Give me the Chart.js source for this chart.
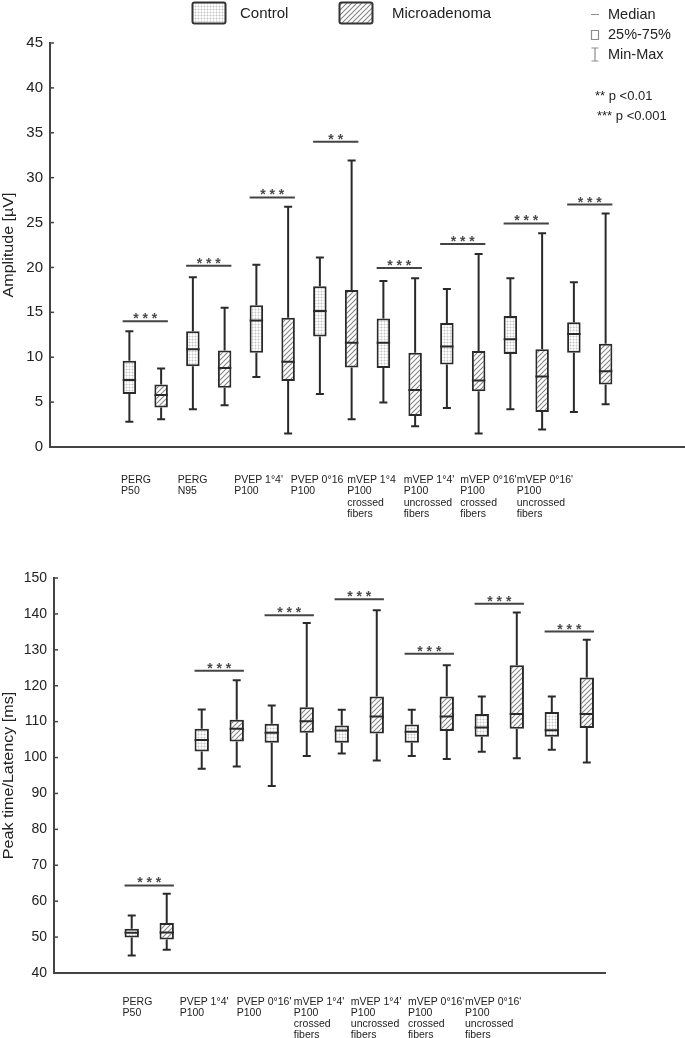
<!DOCTYPE html>
<html>
<head>
<meta charset="utf-8">
<script src="https://cdn.jsdelivr.net/npm/chart.js@4.4.1/dist/chart.umd.min.js"></script>
<style>
  body { margin: 0; background: #fff; }
  #wrap { position: relative; width: 685px; height: 1038px; }
  canvas { position: absolute; left: 0; }
  #amp { top: 0; }
  #lat { top: 530px; }
</style>
</head>
<body>
<div id="wrap">
  <canvas id="amp" width="685" height="530"></canvas>
  <canvas id="lat" width="685" height="508"></canvas>
</div>
<script>
// amplitude panel (uV)
const ampLabels = [
  ["PERG", "P50"], ["PERG", "N95"], ["PVEP 1°4'", "P100"], ["PVEP 0°16", "P100"],
  ["mVEP 1°4", "P100", "crossed", "fibers"], ["mVEP 1°4'", "P100", "uncrossed", "fibers"],
  ["mVEP 0°16'", "P100", "crossed", "fibers"], ["mVEP 0°16'", "P100", "uncrossed", "fibers"]
];
const ampCtrlMin = [2.8, 4.2, 7.8, 5.9, 4.95, 4.35, 4.2, 3.9];
const ampCtrlQ1  = [5.9, 9.0, 10.5, 12.3, 8.8, 9.2, 10.35, 10.5];
const ampCtrlMed = [7.45, 10.9, 14.1, 15.15, 11.6, 11.2, 12.0, 12.6];
const ampCtrlQ3  = [9.6, 12.9, 15.8, 17.9, 14.3, 13.8, 14.6, 13.9];
const ampCtrlMax = [12.9, 18.9, 20.3, 21.1, 18.5, 17.6, 18.8, 18.35];
const ampMicMin = [3.1, 4.65, 1.5, 3.1, 2.3, 1.5, 1.95, 4.75];
const ampMicQ1  = [4.4, 6.6, 7.35, 8.85, 3.45, 6.2, 3.9, 6.95];
const ampMicMed = [5.8, 8.8, 9.5, 11.6, 6.35, 7.4, 7.85, 8.45];
const ampMicQ3  = [6.95, 10.75, 14.4, 17.5, 10.5, 10.7, 10.9, 11.5];
const ampMicMax = [8.75, 15.5, 26.75, 31.9, 18.8, 21.5, 23.8, 26.0];
const ampSigAt = [14.0, 20.2, 27.8, 34.0, 19.95, 22.6, 24.9, 27.0];
const ampStars = ["***", "***", "***", "**", "***", "***", "***", "***"];

// latency panel (ms)
const latLabels = [
  ["PERG", "P50"], ["PVEP 1°4'", "P100"], ["PVEP 0°16'", "P100"],
  ["mVEP 1°4'", "P100", "crossed", "fibers"], ["mVEP 1°4'", "P100", "uncrossed", "fibers"],
  ["mVEP 0°16'", "P100", "crossed", "fibers"], ["mVEP 0°16'", "P100", "uncrossed", "fibers"]
];
const latCtrlMin = [44.9, 96.9, 92.1, 101.1, 100.4, 101.6, 102.2];
const latCtrlQ1  = [49.9, 101.7, 104.1, 104.1, 104.1, 105.8, 105.8];
const latCtrlMed = [51.2, 104.9, 106.9, 107.5, 107.2, 108.4, 107.6];
const latCtrlQ3  = [52.3, 108.0, 109.4, 108.9, 109.2, 112.1, 112.7];
const latCtrlMax = [56.0, 113.4, 114.5, 113.3, 113.3, 117.0, 117.0];
const latMicMin = [46.5, 97.5, 100.4, 99.2, 99.6, 99.8, 98.6];
const latMicQ1  = [49.3, 104.5, 106.9, 106.7, 107.4, 108.0, 108.2];
const latMicMed = [51.3, 108.0, 110.1, 111.4, 111.4, 112.1, 112.1];
const latMicQ3  = [53.9, 110.5, 114.0, 117.0, 117.0, 125.7, 122.3];
const latMicMax = [62.1, 121.5, 137.5, 141.0, 125.7, 140.4, 132.8];
const latSigAt = [64.4, 124.2, 139.6, 144.1, 128.9, 142.8, 135.1];
const latStars = ["***", "***", "***", "***", "***", "***", "***"];

const FONT = "'Liberation Sans', Arial, sans-serif";
Chart.defaults.font.family = FONT;
Chart.defaults.color = "#222";

function dotPattern() {
  const c = document.createElement("canvas");
  c.width = 3; c.height = 3;
  const g = c.getContext("2d");
  g.fillStyle = "#fff"; g.fillRect(0, 0, 3, 3);
  g.fillStyle = "#e6e6e6"; g.fillRect(0, 0, 3, 1); g.fillRect(0, 0, 1, 3);
  g.fillStyle = "#c4c4c4"; g.fillRect(0, 0, 1, 1);
  return g.createPattern(c, "repeat");
}

function hatchPattern() {
  const c = document.createElement("canvas");
  c.width = 5; c.height = 5;
  const g = c.getContext("2d");
  g.fillStyle = "#fff"; g.fillRect(0, 0, 5, 5);
  g.strokeStyle = "#858585"; g.lineWidth = 1.1;
  g.beginPath();
  g.moveTo(-1, 6); g.lineTo(6, -1);
  g.moveTo(-1, 1); g.lineTo(1, -1);
  g.moveTo(4, 6); g.lineTo(6, 4);
  g.stroke();
  return g.createPattern(c, "repeat");
}

const dots = dotPattern();
const hatch = hatchPattern();

// whiskers, caps and medians on top of the floating bars
const boxParts = {
  id: "boxParts",
  afterDatasetsDraw(chart) {
    const ctx = chart.ctx, y = chart.scales.y;
    chart.data.datasets.forEach((ds, di) => {
      chart.getDatasetMeta(di).data.forEach((bar, i) => {
        const x = bar.x, half = bar.width / 2;
        const top = y.getPixelForValue(ds.data[i].y[1]);
        const bot = y.getPixelForValue(ds.data[i].y[0]);
        const yMax = y.getPixelForValue(ds.hi[i]);
        const yMin = y.getPixelForValue(ds.lo[i]);
        const yMed = y.getPixelForValue(ds.med[i]);
        ctx.save();
        ctx.strokeStyle = "#2a2a2a";
        ctx.lineWidth = 2;
        ctx.beginPath();
        ctx.moveTo(x, yMax); ctx.lineTo(x, top);
        ctx.moveTo(x, bot); ctx.lineTo(x, yMin);
        ctx.moveTo(x - 4, yMax); ctx.lineTo(x + 4, yMax);
        ctx.moveTo(x - 4, yMin); ctx.lineTo(x + 4, yMin);
        ctx.moveTo(x - half, yMed); ctx.lineTo(x + half, yMed);
        ctx.stroke();
        ctx.restore();
      });
    });
  }
};

// significance bars with stars
const sigBars = {
  id: "sigBars",
  afterDatasetsDraw(chart, args, opts) {
    const ctx = chart.ctx, y = chart.scales.y;
    const a = chart.getDatasetMeta(0).data, b = chart.getDatasetMeta(1).data;
    opts.at.forEach((v, i) => {
      const py = y.getPixelForValue(v);
      const x0 = a[i].x - a[i].width / 2, x1 = b[i].x + b[i].width / 2;
      ctx.save();
      ctx.strokeStyle = "#444";
      ctx.lineWidth = 2;
      ctx.beginPath(); ctx.moveTo(x0, py); ctx.lineTo(x1, py); ctx.stroke();
      ctx.fillStyle = "#4a4a4a";
      ctx.font = "bold 14px " + FONT;
      ctx.textAlign = "center";
      ctx.textBaseline = "alphabetic";
      ctx.fillText(opts.stars[i].split("").join(" "), (x0 + x1) / 2, py + 2);
      ctx.restore();
    });
  }
};

// category labels, y title and small inward ticks
const axisExtras = {
  id: "axisExtras",
  afterDraw(chart, args, opts) {
    const ctx = chart.ctx, x = chart.scales.x, y = chart.scales.y, area = chart.chartArea;
    ctx.save();
    ctx.strokeStyle = "#444";
    ctx.lineWidth = 1.5;
    y.ticks.forEach((t) => {
      const py = y.getPixelForValue(t.value);
      ctx.beginPath(); ctx.moveTo(area.left, py); ctx.lineTo(area.left + 4, py); ctx.stroke();
    });
    ctx.fillStyle = "#222";
    ctx.font = "10.5px " + FONT;
    ctx.textAlign = "left";
    ctx.textBaseline = "middle";
    opts.labels.forEach((lines, i) => {
      const px = x.getPixelForValue(opts.start + i * opts.step);
      lines.forEach((s, k) => ctx.fillText(s, px, area.bottom + opts.gap + k * opts.lineH));
    });
    ctx.translate(9, (area.top + area.bottom) / 2);
    ctx.rotate(-Math.PI / 2);
    ctx.scale(1.15, 1);
    ctx.font = "14px " + FONT;
    ctx.textAlign = "center";
    ctx.fillText(opts.title, 0, 0);
    ctx.restore();
  }
};

const topLegend = {
  id: "topLegend",
  afterDraw(chart) {
    const ctx = chart.ctx;
    ctx.save();
    ctx.lineWidth = 2;
    ctx.strokeStyle = "#333";
    [[192.5, dots], [339.5, hatch]].forEach(([lx, fill]) => {
      ctx.fillStyle = fill;
      ctx.beginPath(); ctx.roundRect(lx, 2.5, 33, 21, 2); ctx.fill(); ctx.stroke();
    });
    ctx.fillStyle = "#222";
    ctx.font = "15px " + FONT;
    ctx.textBaseline = "middle";
    ctx.fillText("Control", 240, 14);
    ctx.fillText("Microadenoma", 392, 14);
    ctx.strokeStyle = "#8c8c8c";
    ctx.lineWidth = 1.2;
    ctx.beginPath();
    ctx.moveTo(591, 14.5); ctx.lineTo(599, 14.5);
    ctx.rect(591.5, 30.5, 7, 9);
    ctx.moveTo(595, 48); ctx.lineTo(595, 61);
    ctx.moveTo(591.5, 48); ctx.lineTo(598.5, 48);
    ctx.moveTo(591.5, 61); ctx.lineTo(598.5, 61);
    ctx.stroke();
    ctx.font = "14.5px " + FONT;
    ctx.fillText("Median", 608, 15);
    ctx.fillText("25%-75%", 608, 35);
    ctx.fillText("Min-Max", 608, 55);
    ctx.font = "13px " + FONT;
    ctx.fillText("** p <0.01", 595, 96);
    ctx.fillText("*** p <0.001", 597, 116);
    ctx.restore();
  }
};

function boxChart(id, o) {
  const pair = (lo, hi) => lo.map((v, i) => ({ x: i + 1, y: [v, hi[i]] }));
  const common = {
    borderColor: "#2a2a2a", borderWidth: 2, borderSkipped: false,
    categoryPercentage: 1.0, barPercentage: o.barPct
  };
  return new Chart(document.getElementById(id), {
    type: "bar",
    data: {
      datasets: [
        Object.assign({ label: "Control", data: pair(o.c.q1, o.c.q3), backgroundColor: dots,
          lo: o.c.min, med: o.c.med, hi: o.c.max }, common),
        Object.assign({ label: "Microadenoma", data: pair(o.m.q1, o.m.q3), backgroundColor: hatch,
          lo: o.m.min, med: o.m.med, hi: o.m.max }, common)
      ]
    },
    options: {
      responsive: false,
      animation: false,
      layout: { padding: o.pad },
      plugins: {
        legend: { display: false },
        tooltip: { enabled: false },
        sigBars: { at: o.sigAt, stars: o.stars },
        axisExtras: o.extras
      },
      scales: {
        x: {
          type: "linear", min: o.xMin, max: o.xMax, offset: false,
          afterBuildTicks: (s) => { s.ticks = o.labels.map((_, i) => ({ value: i + 1 })); },
          afterFit: (s) => { s.height = o.xH; },
          ticks: { display: false },
          grid: { display: false, drawTicks: false, offset: false },
          border: { color: "#444", width: 2 }
        },
        y: {
          min: o.yMin, max: o.yMax,
          afterFit: (s) => { s.width = o.yW; },
          ticks: { stepSize: o.yStep, font: { size: o.tickSize }, color: "#222", padding: 7 },
          grid: { display: false, drawTicks: false },
          border: { color: "#444", width: 2 }
        }
      }
    },
    plugins: o.plugins
  });
}

boxChart("amp", {
  labels: ampLabels,
  c: { min: ampCtrlMin, q1: ampCtrlQ1, med: ampCtrlMed, q3: ampCtrlQ3, max: ampCtrlMax },
  m: { min: ampMicMin, q1: ampMicQ1, med: ampMicMed, q3: ampMicQ3, max: ampMicMax },
  sigAt: ampSigAt, stars: ampStars,
  barPct: 0.425, xMin: -0.5, xMax: 9.5, xH: 83, yW: 50,
  yMin: 0, yMax: 45, yStep: 5, tickSize: 15,
  pad: { top: 43, right: 0, left: 0, bottom: 0 },
  extras: { labels: ampLabels, start: 0.62, step: 0.89, gap: 33, lineH: 11.5, title: "Amplitude [µV]" },
  plugins: [boxParts, sigBars, axisExtras, topLegend]
});

boxChart("lat", {
  labels: latLabels,
  c: { min: latCtrlMin, q1: latCtrlQ1, med: latCtrlMed, q3: latCtrlQ3, max: latCtrlMax },
  m: { min: latMicMin, q1: latMicQ1, med: latMicMed, q3: latMicQ3, max: latMicMax },
  sigAt: latSigAt, stars: latStars,
  barPct: 0.41, xMin: -0.36, xMax: 7.51, xH: 65, yW: 54,
  yMin: 40, yMax: 150, yStep: 10, tickSize: 14,
  pad: { top: 48, right: 80, left: 0, bottom: 0 },
  extras: { labels: latLabels, start: 0.62, step: 0.815, gap: 29, lineH: 11, title: "Peak time/Latency [ms]" },
  plugins: [boxParts, sigBars, axisExtras]
});
</script>
</body>
</html>
